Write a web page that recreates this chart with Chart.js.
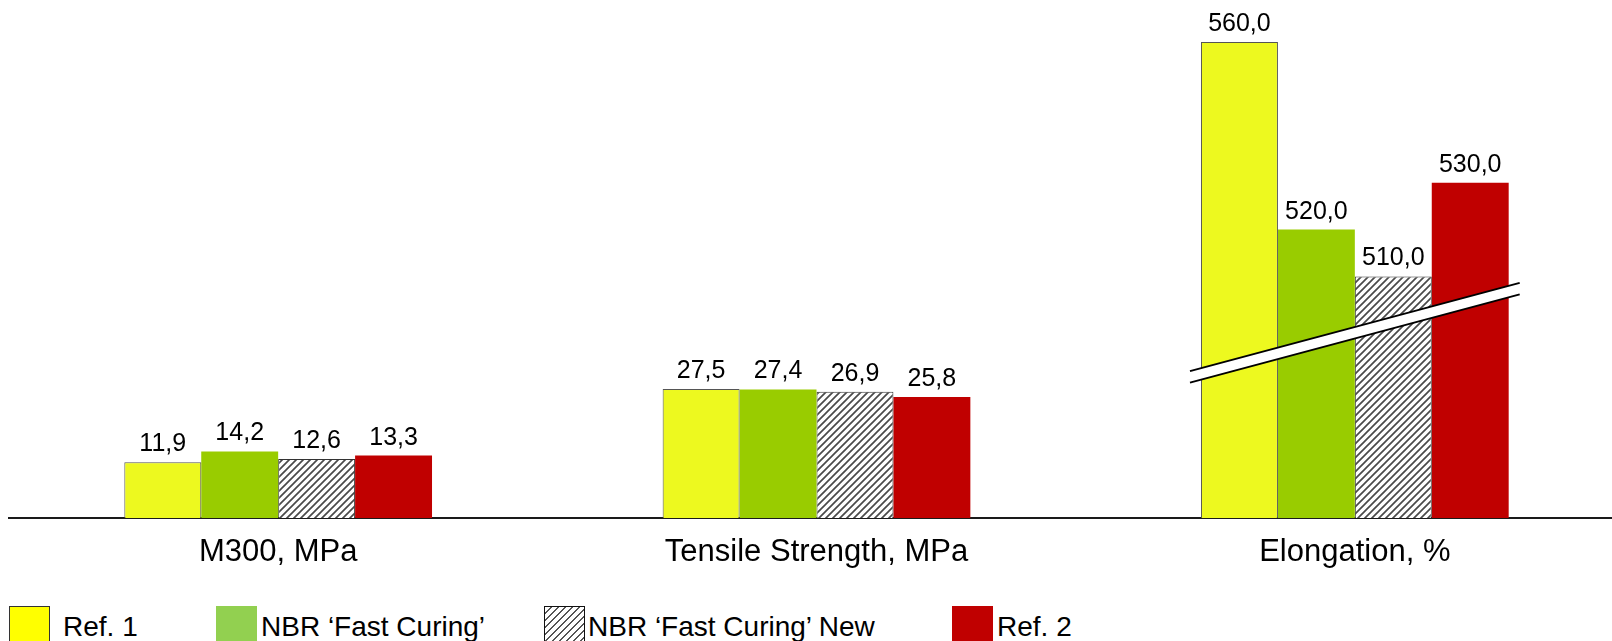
<!DOCTYPE html>
<html lang="en">
<head>
  <meta charset="utf-8">
  <script src="https://cdn.jsdelivr.net/npm/chart.js@4.4.1/dist/chart.umd.min.js"></script>
  <style>
    html, body {
      margin: 0;
      padding: 0;
      background: #FFFFFF;
    }
    .page {
      position: relative;
      width: 1612px;
      height: 641px;
      overflow: hidden;
      font-family: 'Liberation Sans', Arial, sans-serif;
    }
    .chart-box {
      position: absolute;
      left: 0;
      top: 0;
      width: 1624px;
      height: 570px;
    }
    .legend-box {
      position: absolute;
      top: 606px;
      width: 41px;
      height: 41px;
      box-sizing: border-box;
    }
    .legend-text {
      position: absolute;
      top: 613px;
      font-size: 28px;
      line-height: 28px;
      color: #000;
      white-space: nowrap;
    }
  </style>
</head>
<body>
  <div class="page">
    <div class="chart-box">
      <canvas id="barChart"></canvas>
    </div>

    <div class="legend-box" style="left:9px; background:#FFFF00; border:1px solid #333;"></div>
    <span class="legend-text" style="left:63px;">Ref. 1</span>

    <div class="legend-box" style="left:216px; background:#92D050;"></div>
    <span class="legend-text" style="left:261px;">NBR ‘Fast Curing’</span>

    <div class="legend-box" style="left:544px; border:1px solid #111; background:repeating-linear-gradient(-45deg, #555 0 1.6px, #fff 1.6px 5px);"></div>
    <span class="legend-text" style="left:588px;">NBR ‘Fast Curing’ New</span>

    <div class="legend-box" style="left:952px; background:#C00000;"></div>
    <span class="legend-text" style="left:997px;">Ref. 2</span>
  </div>

  <script>
    // chart values
    const categories = ['M300, MPa', 'Tensile Strength, MPa', 'Elongation, %'];
    const ref1 = [11.9, 27.5, 560.0];
    const nbrFastCuring = [14.2, 27.4, 520.0];
    const nbrFastCuringNew = [12.6, 26.9, 510.0];
    const ref2 = [13.3, 25.8, 530.0];

    // elongation is drawn on a broken axis, shifted down by this amount
    const brokenCategory = [false, false, true];
    const axisBreakOffset = 458.5;

    const toPlot = arr => arr.map((v, i) => brokenCategory[i] ? v - axisBreakOffset : v);

    // hatch pattern for the "New" series
    function makeHatch() {
      const size = 7;
      const c = document.createElement('canvas');
      c.width = size;
      c.height = size;
      const g = c.getContext('2d');
      g.fillStyle = '#FFFFFF';
      g.fillRect(0, 0, size, size);
      g.strokeStyle = '#4a4a4a';
      g.lineWidth = 1.7;
      g.beginPath();
      g.moveTo(-1, size + 1); g.lineTo(size + 1, -1);
      g.moveTo(-1, 1); g.lineTo(1, -1);
      g.moveTo(size - 1, size + 1); g.lineTo(size + 1, size - 1);
      g.stroke();
      return g.createPattern(c, 'repeat');
    }

    const axisBreakMark = {
      id: 'axisBreakMark',
      afterDatasetsDraw(chart) {
        const ctx = chart.ctx;
        const idx = brokenCategory.indexOf(true);
        if (idx < 0) return;
        const first = chart.getDatasetMeta(0).data[idx];
        const last = chart.getDatasetMeta(chart.data.datasets.length - 1).data[idx];
        const x0 = first.x - first.width / 2 - 11;
        const x1 = last.x + last.width / 2 + 11;
        const xc = (x0 + x1) / 2;
        const yc = chart.scales.y.getPixelForValue(39.5);
        const slope = 0.2676;
        const gap = 11.5;
        const yAt = x => yc - (x - xc) * slope;

        ctx.save();
        ctx.fillStyle = '#FFFFFF';
        ctx.beginPath();
        ctx.moveTo(x0, yAt(x0) - gap / 2);
        ctx.lineTo(x1, yAt(x1) - gap / 2);
        ctx.lineTo(x1, yAt(x1) + gap / 2);
        ctx.lineTo(x0, yAt(x0) + gap / 2);
        ctx.closePath();
        ctx.fill();
        ctx.strokeStyle = '#000000';
        ctx.lineWidth = 2;
        ctx.beginPath();
        ctx.moveTo(x0, yAt(x0) - gap / 2);
        ctx.lineTo(x1, yAt(x1) - gap / 2);
        ctx.moveTo(x0, yAt(x0) + gap / 2);
        ctx.lineTo(x1, yAt(x1) + gap / 2);
        ctx.stroke();
        ctx.restore();
      }
    };

    const valueLabels = {
      id: 'valueLabels',
      afterDatasetsDraw(chart) {
        const ctx = chart.ctx;
        ctx.save();
        ctx.font = "25px 'Liberation Sans', Arial, sans-serif";
        ctx.fillStyle = '#000000';
        ctx.textAlign = 'center';
        ctx.textBaseline = 'alphabetic';
        chart.data.datasets.forEach((ds, di) => {
          chart.getDatasetMeta(di).data.forEach((bar, i) => {
            const txt = ds.realValues[i].toFixed(1).replace('.', ',');
            ctx.fillText(txt, bar.x, bar.y - 11);
          });
        });
        ctx.restore();
      }
    };

    const ctx = document.getElementById('barChart').getContext('2d');

    new Chart(ctx, {
      type: 'bar',
      data: {
        labels: categories,
        datasets: [{
          label: 'Ref. 1',
          realValues: ref1,
          data: toPlot(ref1),
          backgroundColor: '#EDF91F',
          borderColor: '#555555',
          borderWidth: 1
        }, {
          label: 'NBR ‘Fast Curing’',
          realValues: nbrFastCuring,
          data: toPlot(nbrFastCuring),
          backgroundColor: '#99CC00',
          borderWidth: 0
        }, {
          label: 'NBR ‘Fast Curing’ New',
          realValues: nbrFastCuringNew,
          data: toPlot(nbrFastCuringNew),
          backgroundColor: makeHatch(),
          borderColor: '#333333',
          borderWidth: 1
        }, {
          label: 'Ref. 2',
          realValues: ref2,
          data: toPlot(ref2),
          backgroundColor: '#C00000',
          borderWidth: 0
        }]
      },
      options: {
        responsive: true,
        maintainAspectRatio: false,
        animation: false,
        categoryPercentage: 0.5716,
        barPercentage: 1,
        layout: {
          padding: { left: 9, right: 0, top: 0, bottom: 0 }
        },
        scales: {
          x: {
            grid: { display: false, drawTicks: false },
            border: { display: true, color: '#1a1a1a', width: 2 },
            ticks: {
              padding: 16,
              color: '#000000',
              font: { family: "'Liberation Sans', Arial, sans-serif", size: 31 }
            },
            afterFit: s => { s.height = 52; }
          },
          y: {
            display: false,
            min: 0,
            max: 110.45
          }
        },
        plugins: {
          legend: { display: false },
          tooltip: { enabled: false }
        }
      },
      plugins: [axisBreakMark, valueLabels]
    });
  </script>
</body>
</html>
